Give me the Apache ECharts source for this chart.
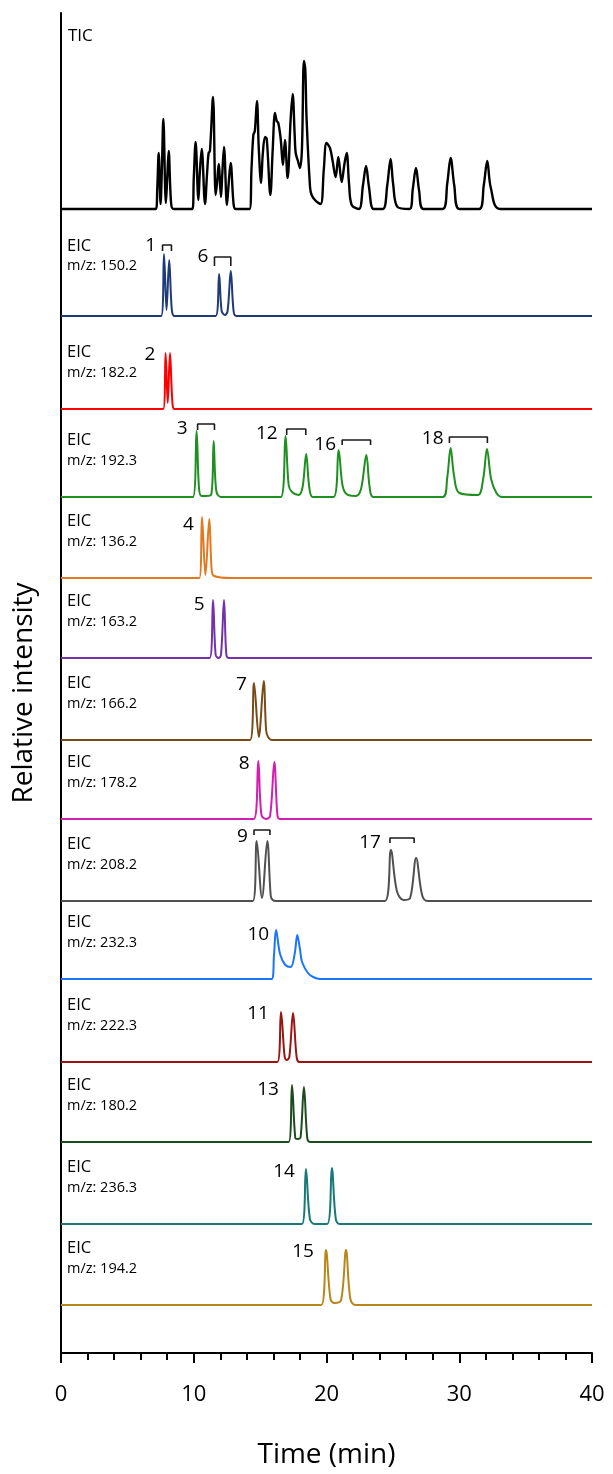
<!DOCTYPE html>
<html><head><meta charset="utf-8">
<script src="https://cdn.jsdelivr.net/npm/echarts@6/dist/echarts.min.js"></script>
<style>html,body{margin:0;padding:0;background:#fff}#c{width:613px;height:1474px}</style>
</head><body><div id="c"></div>
<script>
// ---------- data (time in min, intensity in arbitrary units) ----------
const xTicks = [0, 10, 20, 30, 40];
const panelLabels = ['TIC', 'm/z: 150.2', 'm/z: 182.2', 'm/z: 192.3', 'm/z: 136.2', 'm/z: 163.2', 'm/z: 166.2',
  'm/z: 178.2', 'm/z: 208.2', 'm/z: 232.3', 'm/z: 222.3', 'm/z: 180.2', 'm/z: 236.3', 'm/z: 194.2'];

const tic = [[0,0],[7.15,0],[7.25,20],[7.36,56],[7.5,5],[7.6,40],[7.71,90],[7.9,6],[8.0,30],[8.11,58],[8.3,5],[8.5,0],
 [9.9,0],[10.0,30],[10.14,67],[10.35,9],[10.45,35],[10.6,60],[10.85,5],[11.0,35],[11.12,56],[11.22,58],[11.45,112],
 [11.65,14],[11.75,25],[11.88,45],[12.05,12],[12.15,35],[12.28,62],[12.5,4],[12.6,20],[12.78,46],[13.0,5],[13.15,0],
 [14.2,0],[14.35,40],[14.49,74],[14.6,78],[14.76,108],[14.9,60],[15.07,26],[15.2,55],[15.37,72],[15.5,70],[15.77,14],
 [15.95,60],[16.12,96],[16.25,88],[16.37,86],[16.55,70],[16.72,44],[16.87,69],[17.07,31],[17.3,90],[17.45,115],
 [17.6,75],[17.68,56],[17.85,48],[18.0,41],[18.15,60],[18.3,148],[18.4,140],[18.5,90],[18.76,22],[18.88,14],[19.2,8],
 [19.56,5],[19.8,40],[20.0,66],[20.26,61],[20.45,49],[20.69,32],[20.89,52],[21.14,27],[21.35,45],[21.52,56],[21.7,25],
 [21.9,4],[22.45,0],[22.75,24],[22.98,43],[23.2,22],[23.55,0],[24.25,0],[24.58,24],[24.83,50],[25.02,25],[25.35,2],
 [26.25,0],[26.5,20],[26.74,41],[26.97,19],[27.3,0],[28.75,0],[29.1,26],[29.35,51],[29.62,24],[30.0,0],[31.5,0],
 [31.85,24],[32.11,48],[32.38,21],[33.07,0],[40,0]];
const eic150 = [[0,0],[7.55,0],[7.76,62],[7.95,6],[8.15,56],[8.35,6],[8.55,0],[11.65,0],[11.91,42],[12.1,5],[12.35,1],
 [12.55,5],[12.79,45],[13.0,5],[13.2,0],[40,0]];
const eic182 = [[0,0],[7.7,0],[7.88,56],[8.04,6],[8.21,56],[8.4,5],[8.56,0],[40,0]];
const eic192 = [[0,0],[9.94,0],[10.21,66],[10.4,8],[10.6,1],[11.3,2],[11.5,56],[11.7,6],[12.06,0],[16.56,0],[16.91,61],
 [17.15,12],[17.4,5],[17.9,2],[18.2,10],[18.47,43],[18.7,10],[18.97,0],[20.53,0],[20.91,47],[21.2,12],[21.5,3],[22.2,1],
 [22.6,8],[23.0,42],[23.25,10],[23.53,0],[28.76,0],[29.1,20],[29.35,49],[29.6,22],[30.0,4],[31.4,2],[31.8,18],[32.09,48],
 [32.4,18],[32.8,4],[33.24,0],[40,0]];
const eic136 = [[0,0],[10.42,0],[10.62,61],[10.88,3],[11.17,59],[11.35,8],[11.53,2],[12.8,0],[40,0]];
const eic163 = [[0,0],[11.2,0],[11.45,58],[11.65,3],[11.86,0],[12.05,3],[12.28,58],[12.45,4],[12.63,0],[40,0]];
const eic166 = [[0,0],[14.24,0],[14.54,57],[14.9,3],[15.27,59],[15.45,10],[15.6,3],[15.9,0],[40,0]];
const eic178 = [[0,0],[14.53,0],[14.86,58],[15.1,4],[15.45,0],[15.75,3],[16.07,57],[16.3,4],[16.47,0],[40,0]];
const eic208 = [[0,0],[14.45,0],[14.74,60],[15.14,3],[15.54,60],[15.8,5],[15.95,1],[16.2,0],[24.4,0],[24.85,51],
 [25.3,10],[25.8,1],[26.3,3],[26.75,43],[27.2,6],[27.6,0],[40,0]];
const eic232 = [[0,0],[15.87,0],[16.05,25],[16.2,49],[16.5,25],[16.9,14],[17.3,12],[17.6,25],[17.8,44],[18.0,30],
 [18.16,17],[18.6,6],[19.0,2],[19.5,0],[40,0]];
const eic222 = [[0,0],[16.3,0],[16.57,50],[16.85,5],[17.0,2],[17.2,5],[17.48,49],[17.75,5],[17.95,0],[40,0]];
const eic180 = [[0,0],[17.15,0],[17.4,57],[17.65,4],[17.85,3],[18.05,5],[18.3,55],[18.55,4],[18.75,0],[40,0]];
const eic236 = [[0,0],[18.15,0],[18.45,55],[18.75,5],[19.1,0],[20.05,0],[20.4,56],[20.7,5],[21.0,0],[40,0]];
const eic194 = [[0,0],[19.6,0],[19.96,55],[20.3,6],[20.6,2],[21.1,5],[21.47,55],[21.8,6],[22.2,0],[40,0]];

// brackets: [panel, start time, end time, top level, foot level]
const brackets = [[1,7.65,8.32,71,65],[1,11.56,12.79,59,50],[3,10.29,11.56,73,67],[3,17.0,18.44,68,62],
 [3,21.18,23.32,57,52],[3,29.26,32.12,60,54],[8,14.54,15.74,71,66],[8,24.78,26.6,63,58]];
// peak numbers: [panel, time, level, text]
const peakNumbers = [[1,6.76,70,'1'],[1,10.7,59,'6'],[2,6.7,54,'2'],[3,9.12,68,'3'],[3,15.5,63,'12'],[3,19.9,52,'16'],
 [3,28.0,58,'18'],[4,9.59,53,'4'],[5,10.4,53,'5'],[6,13.6,55,'7'],[7,13.8,55,'8'],[8,13.66,64,'9'],[8,23.28,58,'17'],
 [9,14.86,44,'10'],[10,14.84,48,'11'],[11,15.6,52,'13'],[12,16.8,52,'14'],[13,18.23,53,'15']];

const traces = [tic, eic150, eic182, eic192, eic136, eic163, eic166, eic178, eic208, eic232, eic222, eic180, eic236, eic194];

// ---------- layout / style ----------
const colors = ['#000000','#1f3a78','#ff0000','#1f8f1f','#e2781f','#7432a8','#7a4a16','#d21fae','#505050','#1a74ff',
  '#9a1414','#1c4c1c','#177a78','#b8861a'];
const baselines = [209, 316, 409, 497, 578, 658, 740, 819, 901, 979, 1062, 1142, 1224, 1305];
const FONT = 'Open Sans';
const L = 61, R = 21;

const grids = [{left: L, right: R, top: 13, bottom: 119}];
const xAxes = [{
  gridIndex: 0, type: 'value', min: 0, max: 40, interval: 10,
  axisLine: {onZero: false, lineStyle: {color: '#000', width: 2}},
  axisTick: {show: true, length: 10, lineStyle: {color: '#000', width: 2}},
  minorTick: {show: true, splitNumber: 5, length: 7, lineStyle: {color: '#000', width: 2}},
  splitLine: {show: false},
  axisLabel: {fontSize: 22, color: '#000', margin: 31, fontFamily: FONT,
    formatter: v => xTicks.includes(v) ? String(v) : ''},
  name: 'Time (min)', nameLocation: 'middle', nameGap: 88,
  nameTextStyle: {fontSize: 28, color: '#000', fontFamily: FONT}
}];
const yAxes = [{gridIndex: 0, type: 'value', min: 0, max: 1,
  axisLine: {show: true, onZero: false, lineStyle: {color: '#000', width: 2}},
  axisTick: {show: false}, axisLabel: {show: false}, splitLine: {show: false}}];
const series = [];
const graphic = [];

traces.forEach((d, i) => {
  const H = i === 0 ? 160 : 90;
  grids.push({left: L, right: R, top: baselines[i] - H, height: H});
  xAxes.push({gridIndex: i + 1, type: 'value', min: 0, max: 40, show: false});
  yAxes.push({gridIndex: i + 1, type: 'value', min: 0, max: H, show: false});
  series.push({type: 'line', xAxisIndex: i + 1, yAxisIndex: i + 1, data: d, symbol: 'none', clip: false,
    smooth: 0.35,
    lineStyle: {color: colors[i], width: i === 0 ? 2.4 : 2}, itemStyle: {color: colors[i]}, silent: true});
  if (i === 0) {
    graphic.push({type: 'text', x: 68, y: baselines[i] - 173,
      style: {text: panelLabels[i], fontSize: 17, fontFamily: FONT, fill: '#000', align: 'left', verticalAlign: 'middle'}});
  } else {
    const o1 = i === 1 ? 70 : 57, o2 = i === 1 ? 50 : 36;
    graphic.push({type: 'text', x: 67, y: baselines[i] - o1,
      style: {text: 'EIC', fontSize: 16.5, fontFamily: FONT, fill: '#000', align: 'left', verticalAlign: 'middle'}});
    graphic.push({type: 'text', x: 67, y: baselines[i] - o2,
      style: {text: panelLabels[i], fontSize: 14.5, fontFamily: FONT, fill: '#000', align: 'left', verticalAlign: 'middle'}});
  }
});

brackets.forEach(b => {
  const p = b[0];
  series.push({type: 'line', xAxisIndex: p + 1, yAxisIndex: p + 1, symbol: 'none', clip: false, silent: true,
    data: [[b[1], b[4]], [b[1], b[3]], [b[2], b[3]], [b[2], b[4]]],
    lineStyle: {color: '#1a1a1a', width: 1.6}});
});

peakNumbers.forEach(n => {
  const p = n[0];
  series.push({type: 'scatter', xAxisIndex: p + 1, yAxisIndex: p + 1, symbolSize: 0, clip: false, silent: true,
    data: [[n[1], n[2], n[3]]], itemStyle: {opacity: 1, color: '#000'},
    label: {show: true, position: 'inside', formatter: q => q.value[2], fontSize: 19, color: '#000', opacity: 1,
      fontFamily: FONT}});
});

graphic.push({type: 'text', x: 24, y: 693, rotation: Math.PI / 2,
  style: {text: 'Relative intensity', fontSize: 28, fontFamily: FONT, fill: '#000', align: 'center', verticalAlign: 'middle'}});

const chart = echarts.init(document.getElementById('c'), null, {renderer: 'canvas'});
chart.setOption({animation: false, backgroundColor: '#fff', grid: grids, xAxis: xAxes, yAxis: yAxes, series, graphic});
</script></body></html>
